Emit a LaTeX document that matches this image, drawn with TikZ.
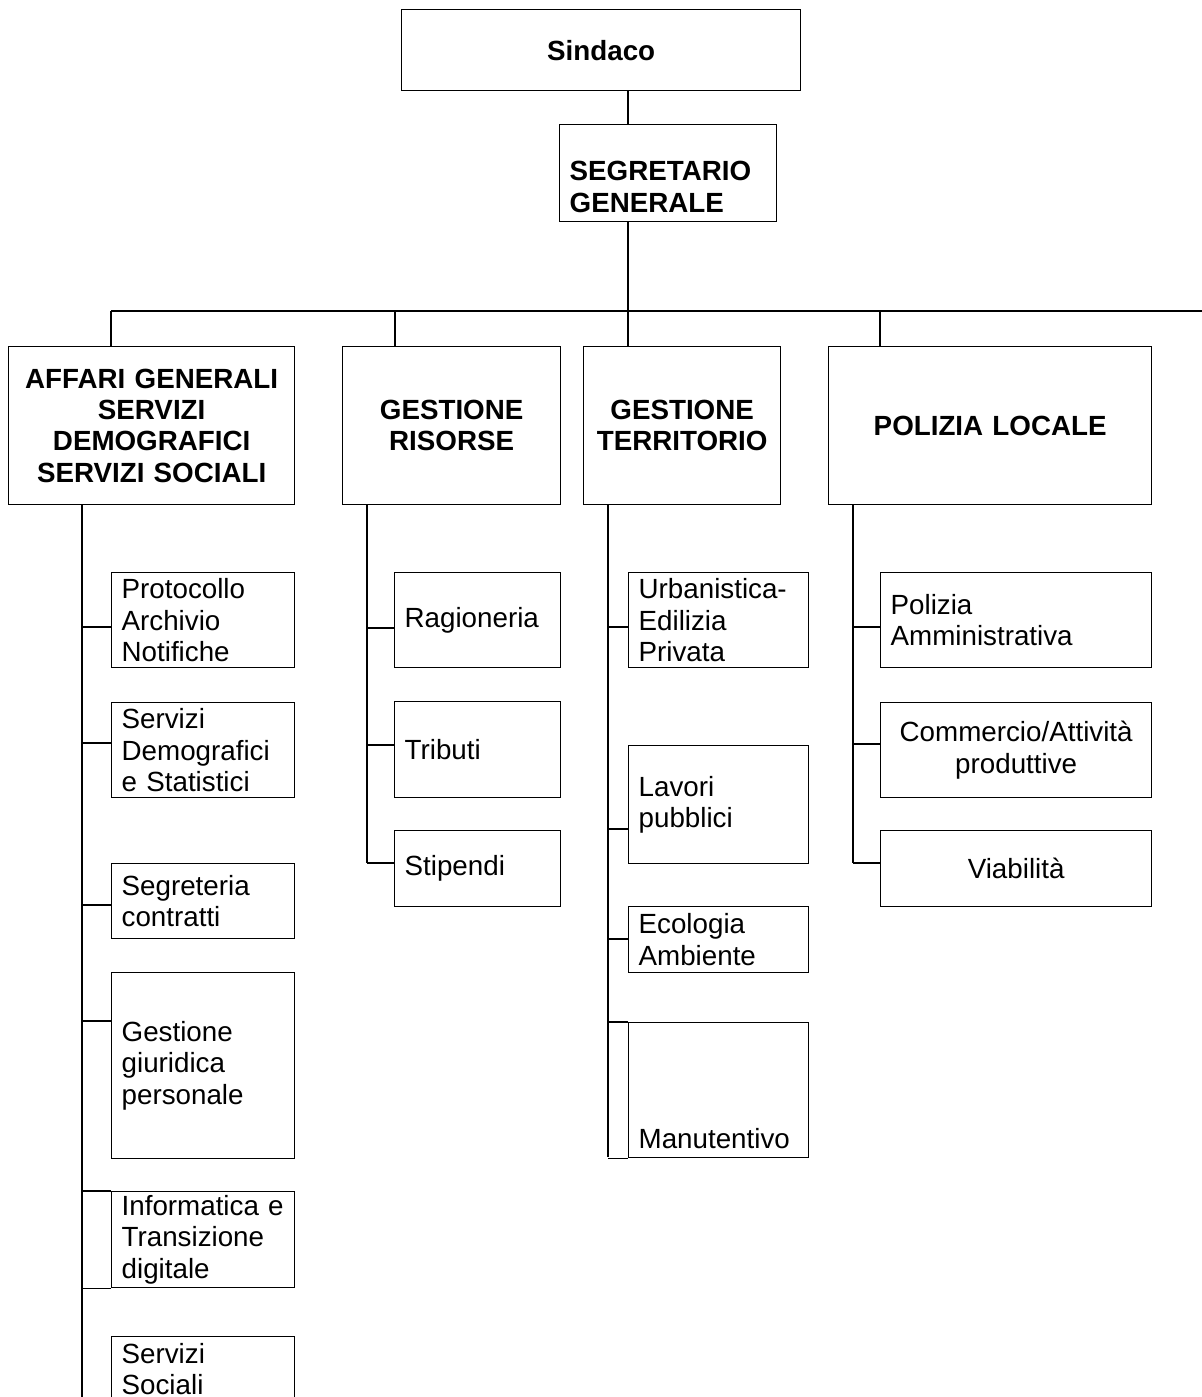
\documentclass[tikz,border=0pt]{standalone}
\usepackage{fontspec}
\setmainfont{Liberation Sans}
\usetikzlibrary{positioning,calc}

\begin{document}
\begin{tikzpicture}[
  x=0.02cm, y=-0.02cm,
  font=\fontsize{15.8}{17.9}\selectfont,
  unit/.style 2 args={draw, line width=0.75pt, anchor=north west,
    inner xsep=0.2cm, inner ysep=0pt, align=left,
    minimum width=#1*0.02cm, text width=(#1-20)*0.02cm,
    minimum height=#2*0.02cm},
  head/.style 2 args={unit={#1}{#2}, align=center,
    font=\fontsize{15.8}{17.9}\selectfont\bfseries},
  link/.style={draw, line width=0.6pt},
  ]
  \useasboundingbox (0,0) rectangle (1202,1397);
  \clip (0,0) rectangle (1202,1397);

  % vertici
  \node[head={399}{81}] (sindaco) at (401,9) {Sindaco};
  \node[unit={217}{97}, text height=1.12cm, text depth=0.82cm,
    font=\fontsize{15.8}{17.9}\selectfont\bfseries]
    (segretario) at (559,124) {SEGRETARIO\\GENERALE};

  % aree
  \node[head={286}{158}] (affari) at (8,346)
    {AFFARI GENERALI\\SERVIZI\\DEMOGRAFICI\\SERVIZI SOCIALI};
  \node[head={218}{158}] (risorse) at (342,346) {GESTIONE\\RISORSE};
  \node[head={197}{158}] (territorio) at (583,346) {GESTIONE\\TERRITORIO};
  \node[head={323}{158}] (polizia) at (828,346) {POLIZIA LOCALE};

  % servizi
  \node[unit={183}{95}] (protocollo) at (111,572) {Protocollo\\Archivio\\Notifiche};
  \node[unit={183}{95}] (demografici) at (111,702) {Servizi\\Demografici\\e Statistici};
  \node[unit={183}{75}] (contratti) at (111,863) {Segreteria\\contratti};
  \node[unit={183}{186}] (personale) at (111,972) {Gestione\\giuridica\\personale};
  \node[unit={183}{96}] (informatica) at (111,1191) {Informatica e\\Transizione\\digitale};
  \node[unit={183}{65}] (sociali) at (111,1336) {Servizi\\Sociali};

  \node[unit={166}{95}] (ragioneria) at (394,572) {Ragioneria};
  \node[unit={166}{96}] (tributi) at (394,701) {Tributi};
  \node[unit={166}{76}] (stipendi) at (394,830) {Stipendi};

  \node[unit={180}{95}] (urbanistica) at (628,572) {Urbanistica-\\Edilizia\\Privata};
  \node[unit={180}{118}] (lavori) at (628,745) {Lavori\\pubblici};
  \node[unit={180}{66}] (ecologia) at (628,906) {Ecologia\\Ambiente};
  \node[unit={180}{135}, text height=2.52cm, text depth=0.18cm]
    (manutentivo) at (628,1022) {Manutentivo};

  \node[unit={271}{95}] (amministrativa) at (880,572) {Polizia\\Amministrativa};
  \node[unit={271}{95}, align=center] (commercio) at (880,702) {Commercio/Attività\\produttive};
  \node[unit={271}{76}, align=center] (viabilita) at (880,830) {Viabilità};

  % collegamenti
  \coordinate (trunk) at (628,311);
  \draw[link] (sindaco.south -| trunk) -- (segretario.north -| trunk);
  \draw[link] (segretario.south -| trunk) -- (trunk);
  \coordinate (bus-l) at (111,311);
  \coordinate (bus-r) at (1202,311);
  \draw[link] (bus-l) -- (bus-r);
  \foreach \n/\x in {affari/111,risorse/395,territorio/628,polizia/880}{
    \coordinate (drop-\n) at (\x,311);
    \draw[link] (drop-\n) -- (drop-\n |- \n.north);
  }

  \coordinate (sp-affari) at (82,1397);
  \coordinate (sp-risorse) at (367,863);
  \coordinate (sp-territorio) at (608,1157);
  \coordinate (sp-polizia) at (853,863);
  \foreach \n in {affari,risorse,territorio,polizia}
    \draw[link] (\n.south -| sp-\n) -- (sp-\n);

  \foreach \n/\s/\d in {protocollo/affari/55, demografici/affari/41,
      contratti/affari/42, personale/affari/49,
      ragioneria/risorse/56, tributi/risorse/44, stipendi/risorse/33,
      urbanistica/territorio/55, lavori/territorio/84, ecologia/territorio/33,
      amministrativa/polizia/55, commercio/polizia/42, viabilita/polizia/33}
    \draw[link] (\n.north west) ++(0,\d) coordinate (tip) -- (tip -| sp-\s);

  \foreach \n/\s in {informatica/affari, manutentivo/territorio}
    \draw[link, line width=0.75pt]
      (\n.north west -| sp-\s) -- (\n.north west)
      (\n.south west -| sp-\s) -- (\n.south west);
\end{tikzpicture}
\end{document}
